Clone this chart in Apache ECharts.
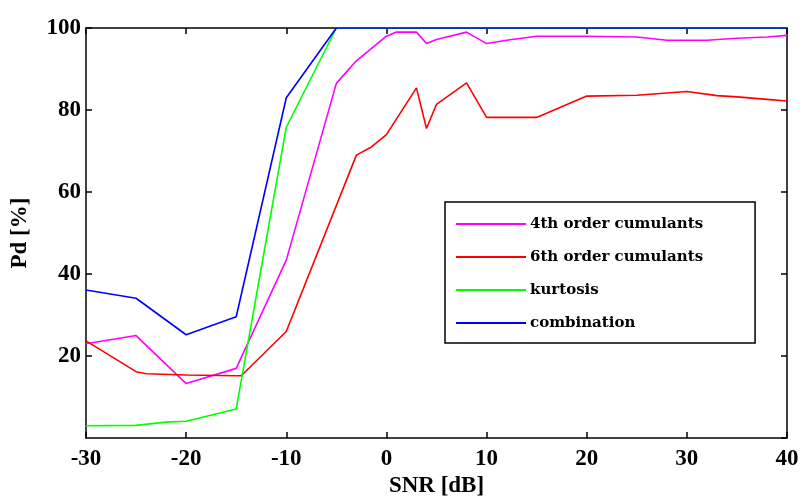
<!DOCTYPE html>
<html>
<head>
<meta charset="utf-8">
<script src="https://cdn.jsdelivr.net/npm/echarts@6/dist/echarts.min.js"></script>
<style>
  html, body { margin: 0; padding: 0; background: #fff; }
  #chart { width: 803px; height: 503px; }
</style>
</head>
<body>
<div id="chart"></div>
<script>
const seriesNames = ['4th order cumulants', '6th order cumulants', 'kurtosis', 'combination'];
const seriesColors = ['#ff00ff', '#ff0000', '#00ff00', '#0000ff'];

// SNR [dB] / Pd [%]
const snr4th = [-30, -25, -20, -15, -10, -5, -3, 0, 1, 3, 4, 5, 8, 10, 12, 15, 20, 25, 28, 32, 35, 38, 40];
const pd4th = [23, 25, 13.3, 17, 43.4, 86.5, 92, 98, 99, 99, 96.2, 97.2, 99, 96.2, 97, 98, 98, 97.8, 97, 97, 97.5, 97.8, 98.2];

const snr6th = [-30, -25, -24, -20, -15, -14.5, -10, -3, -1.5, 0, 3, 4, 5, 8, 10, 15, 20, 25, 30, 33, 35, 38, 40];
const pd6th = [23.7, 16.2, 15.7, 15.4, 15.2, 15.2, 26, 69, 71, 74, 85.4, 75.5, 81.4, 86.6, 78.2, 78.2, 83.4, 83.6, 84.5, 83.5, 83.2, 82.6, 82.2];

const snrKurt = [-30, -25, -22, -20, -15, -10, -5, 40];
const pdKurt = [3, 3.1, 3.9, 4.1, 7.1, 75.8, 100, 100];

const snrComb = [-30, -25, -20, -15, -10, -5, 40];
const pdComb = [36.1, 34.1, 25.2, 29.6, 83, 100, 100];

const xTicks = [-30, -20, -10, 0, 10, 20, 30, 40];
const yTicks = [0, 20, 40, 60, 80, 100];

const pairs = (xs, ys) => xs.map((x, i) => [x, ys[i]]);
const allData = [pairs(snr4th, pd4th), pairs(snr6th, pd6th), pairs(snrKurt, pdKurt), pairs(snrComb, pdComb)];

const labelFont = {
  color: '#000',
  fontFamily: 'Liberation Serif',
  fontWeight: 'bold',
  fontSize: 23,
};

const boxAxis = (extra) => Object.assign({
  type: 'value',
  axisLine: { show: true, onZero: false, lineStyle: { color: '#000', width: 1.5 } },
  axisTick: { show: true, inside: true, length: 6, lineStyle: { color: '#000', width: 1.5 } },
  splitLine: { show: false },
}, extra);

const myChart = echarts.init(document.getElementById('chart'), null, { width: 803, height: 503 });

myChart.setOption({
  backgroundColor: '#fff',
  animation: false,
  grid: { left: 86, right: 16, top: 28, bottom: 60 },
  legend: {
    orient: 'vertical',
    left: 445,
    top: 202,
    padding: [12, 52, 10, 11],
    itemGap: 13,
    itemWidth: 70,
    itemHeight: 2,
    icon: 'rect',
    backgroundColor: '#fff',
    borderColor: '#000',
    borderWidth: 1.5,
    borderRadius: 0,
    data: seriesNames,
    textStyle: {
      color: '#000',
      fontFamily: 'DejaVu Serif',
      fontWeight: 'bold',
      fontSize: 15,
      lineHeight: 20,
      padding: [0, 0, 0, -1],
    },
  },
  xAxis: [
    boxAxis({
      min: xTicks[0],
      max: xTicks[xTicks.length - 1],
      interval: 10,
      name: 'SNR [dB]',
      nameLocation: 'middle',
      nameGap: 34,
      nameTextStyle: labelFont,
      axisLabel: Object.assign({ margin: 9 }, labelFont),
    }),
    boxAxis({
      position: 'top',
      min: xTicks[0],
      max: xTicks[xTicks.length - 1],
      interval: 10,
      axisLabel: { show: false },
    }),
  ],
  yAxis: [
    boxAxis({
      position: 'left',
      min: yTicks[0],
      max: yTicks[yTicks.length - 1],
      interval: 20,
      name: 'Pd [%]',
      nameLocation: 'middle',
      nameGap: 54,
      nameTextStyle: labelFont,
      axisLabel: Object.assign({ margin: 5, showMinLabel: false }, labelFont),
    }),
    boxAxis({
      position: 'right',
      min: yTicks[0],
      max: yTicks[yTicks.length - 1],
      interval: 20,
      axisLabel: { show: false },
    }),
  ],
  series: seriesNames.map((name, i) => ({
    name,
    type: 'line',
    data: allData[i],
    showSymbol: false,
    symbol: 'none',
    color: seriesColors[i],
    lineStyle: { color: seriesColors[i], width: 1.6 },
  })),
});
</script>
</body>
</html>
